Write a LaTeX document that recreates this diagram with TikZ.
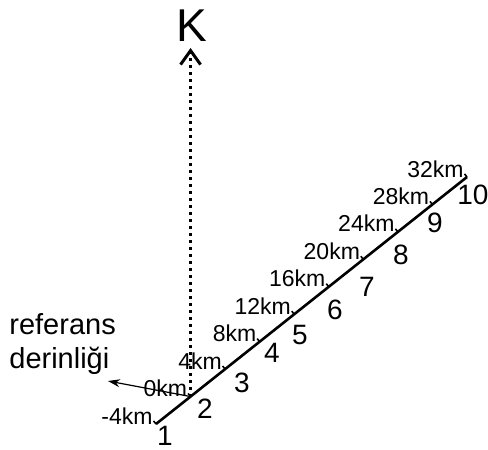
\documentclass[tikz,border=0pt]{standalone}
\usepackage{fontspec}
\setmainfont{Liberation Sans}
\usetikzlibrary{arrows.meta,calc}
\begin{document}
\begin{tikzpicture}[x=0.5pt,y=-0.5pt,
  kmlabel/.style={anchor=base east,inner sep=0pt,font=\fontsize{11.5}{13}\selectfont},
  numlabel/.style={inner sep=0pt,font=\fontsize{14}{16}\selectfont}]
\useasboundingbox (0,0) rectangle (488,450);
\path
(156,424) coordinate (A)
(467,177) coordinate (B)
(108,381) coordinate (R)
;
\foreach \d [count=\i] in {-4,0,...,32}
  \path ($(A)!{(\d+4)/36}!(B)$) coordinate (t\i);
\path (t2 |- 0,48) coordinate (T);
\draw[line width=1.3pt] (A)--(B);
\foreach \d [count=\i] in {-4,0,...,32}{
  \draw[line width=0.8pt] (t\i) -- ++(-2.5,-3.1);
  \node[kmlabel] (km\i) at ($(t\i)+(-3,0)$) {\d km};
}
\foreach \n/\x/\y in {1/165/436,2/205/409,3/242/383,4/272/353,5/300/335,
  6/335/310,7/367/287,8/401/255,9/435/223,10/473/195}
  \node[numlabel] (n\n) at (\x,\y) {\n};
% vertical K axis
\draw[line width=1.5pt,dash pattern=on 1.5pt off 2pt,
  -{Straight Barb[length=7pt,width=10pt]}] (t2) -- (T);
\node[anchor=base,inner sep=0pt,font=\fontsize{23}{27}\selectfont] (K) at (192,41) {K};
% reference depth
\node[anchor=north west,align=left,inner sep=0pt,font=\fontsize{14.5}{17}\selectfont]
  (ref) at (9,313) {referans\\derinliği};
\draw[line width=0.6pt,-{Stealth[length=6pt,width=4pt]}] (t2) -- (R);
\end{tikzpicture}
\end{document}
